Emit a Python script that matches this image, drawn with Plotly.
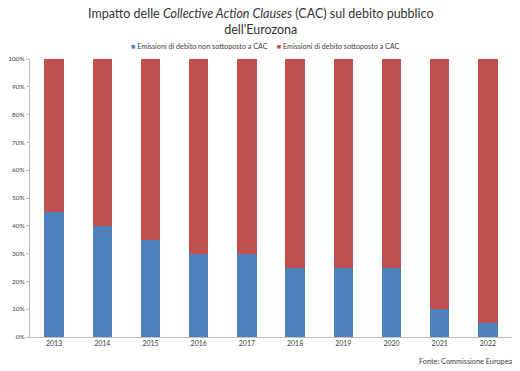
import plotly.graph_objects as go

years = ["2013", "2014", "2015", "2016", "2017", "2018", "2019", "2020", "2021", "2022"]
non_cac = [45, 40, 35, 30, 30, 25, 25, 25, 10, 5]
cac = [55, 60, 65, 70, 70, 75, 75, 75, 90, 95]
yticks = [0, 10, 20, 30, 40, 50, 60, 70, 80, 90, 100]
ytick_labels = [f"{v}%" for v in yticks]
series_names = ["Emissioni di debito non sottoposto a CAC", "Emissioni di debito sottoposto a CAC"]
colors = ["#4F81BD", "#C0504D"]

font = "Lato, Open Sans, sans-serif"

fig = go.Figure()
fig.add_trace(go.Bar(x=years, y=non_cac, name=series_names[0], showlegend=False,
                     marker=dict(color=colors[0], line=dict(width=0))))
fig.add_trace(go.Bar(x=years, y=cac, name=series_names[1], showlegend=False,
                     marker=dict(color=colors[1], line=dict(width=0))))

fig.update_layout(
    barmode="stack",
    bargap=0.6,
    width=520, height=371,
    margin=dict(l=28, r=8, t=59, b=34),
    paper_bgcolor="white", plot_bgcolor="white",
    font=dict(family=font, size=7, color="#404040"),
    showlegend=False,
)
fig.update_xaxes(showline=True, linecolor="#BFBFBF", linewidth=1, ticks="",
                 tickfont=dict(size=7, color="#404040"))
fig.update_yaxes(range=[0, 100], tickvals=yticks, ticktext=ytick_labels, showline=True,
                 linecolor="#BFBFBF", linewidth=1, showgrid=False, zeroline=False,
                 ticks="outside", ticklen=3, tickcolor="#BFBFBF",
                 tickfont=dict(size=6.5, color="#404040"))

# title
fig.add_annotation(text="Impatto delle <i>Collective Action Clauses</i> (CAC) sul debito pubblico<br>dell'Eurozona",
                   xref="paper", yref="paper", x=(260 - 28) / 484, xanchor="center",
                   y=1 + (59 - 4) / 278, yanchor="top", showarrow=False, align="center",
                   font=dict(family=font, size=12.5, color="#333333"))
# legend
legend_text = (f"<span style='color:{colors[0]}'>■</span> {series_names[0]}"
               f"&nbsp;&nbsp;&nbsp;&nbsp;&nbsp;<span style='color:{colors[1]}'>■</span> {series_names[1]}")
fig.add_annotation(text=legend_text, xref="paper", yref="paper", x=(264 - 28) / 484,
                   xanchor="center", y=1 + (59 - 46) / 278, yanchor="middle", showarrow=False,
                   font=dict(family=font, size=7.2, color="#404040"))
# source
fig.add_annotation(text="Fonte: Commissione Europea", xref="paper", yref="paper",
                   x=1.0 + 3 / 484, xanchor="right", y=-(361 - 337) / 278, yanchor="middle",
                   showarrow=False, font=dict(family=font, size=7.3, color="#404040"))

fig.write_html("out.html", config={"displayModeBar": False},
               post_script="document.body.style.margin='0';document.body.style.overflow='hidden';")
